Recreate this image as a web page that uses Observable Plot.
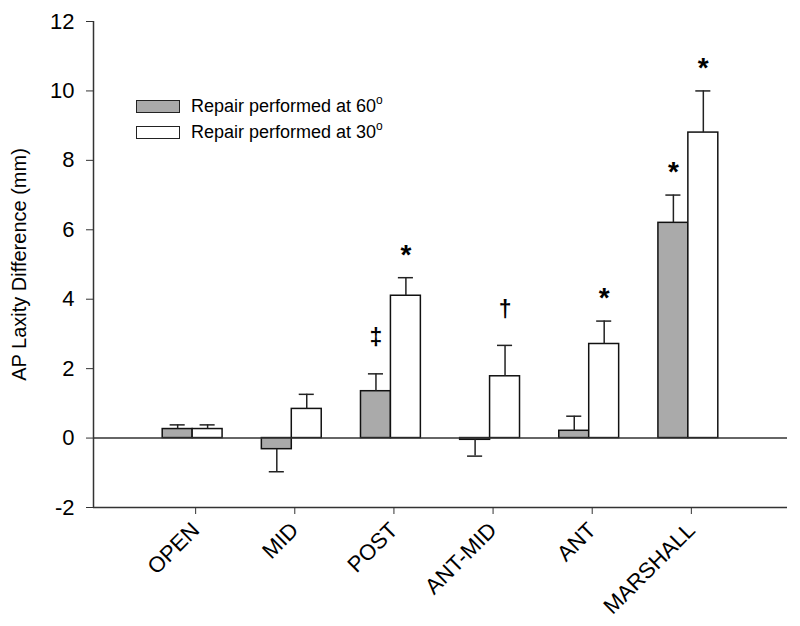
<!DOCTYPE html>
<html>
<head>
<meta charset="utf-8">
<script src="https://cdn.jsdelivr.net/npm/d3@7"></script>
<script src="https://cdn.jsdelivr.net/npm/@observablehq/plot@0.6"></script>
<style>
  html, body { margin: 0; padding: 0; background: #fff; }
  #wrap { position: relative; width: 800px; height: 626px; font-family: "Liberation Sans", Arial, sans-serif; }
  #legend { position: absolute; left: 136px; top: 100px; font-size: 18px; color: #000; }
  .row { display: flex; align-items: center; height: 13px; margin-bottom: 13px; }
  .sw { width: 42px; height: 11px; border: 1.5px solid #222; margin-right: 11px; box-sizing: content-box; }
  sup { font-size: 12px; vertical-align: 8px; line-height: 0; }
</style>
</head>
<body>
<div id="wrap"><div id="chart"></div>
<div id="legend"></div>
</div>
<script>
const categories = ["OPEN", "MID", "POST", "ANT-MID", "ANT", "MARSHALL"];
const mean60 = [0.26, -0.32, 1.35, -0.05, 0.21, 6.20];
const err60  = [0.12, 0.65, 0.50, 0.47, 0.42, 0.80];
const mean30 = [0.26, 0.84, 4.10, 1.78, 2.71, 8.80];
const err30  = [0.12, 0.42, 0.52, 0.89, 0.66, 1.20];
const sig60  = ["", "", "\u2021", "", "", "*"];
const sig30  = ["", "", "*", "\u2020", "*", "*"];
const seriesNames = ["Repair performed at 60", "Repair performed at 30"];
const seriesFill = ["#aaaaaa", "#ffffff"];
const yTicks = [-2, 0, 2, 4, 6, 8, 10, 12];

const barW = 0.302;
const capHalf = 0.076;
const rows = [];
categories.forEach((c, i) => {
  const pos = i + 1;
  [[mean60, err60, sig60], [mean30, err30, sig30]].forEach(([m, e, s], k) => {
    const v = m[i];
    const x1 = k === 0 ? pos - barW : pos;
    const x2 = k === 0 ? pos : pos + barW;
    const end = v + (v < 0 ? -e[i] : e[i]);
    rows.push({cat: c, pos, series: k, v, x1, x2, xc: (x1 + x2) / 2, end, sig: s[i]});
  });
});

const ink = "#222";
const plot = Plot.plot({
  width: 800,
  height: 626,
  marginLeft: 93,
  marginRight: 13,
  marginTop: 21,
  marginBottom: 119,
  style: {fontFamily: "'Liberation Sans', Arial, sans-serif", fontSize: "22px", color: "#000", background: "#fff"},
  x: {domain: [0, 7]},
  y: {domain: [-2, 12]},
  marks: [
    Plot.rect(rows, {x1: "x1", x2: "x2", y1: 0, y2: "v", fill: d => seriesFill[d.series], stroke: "#111", strokeWidth: 1.5}),
    Plot.ruleX(rows, {x: "xc", y1: "v", y2: "end", stroke: ink, strokeWidth: 1.5}),
    Plot.ruleY(rows, {y: "end", x1: d => d.xc - capHalf, x2: d => d.xc + capHalf, stroke: ink, strokeWidth: 1.5}),
    Plot.ruleY([0], {stroke: "#333", strokeWidth: 1.5}),
    Plot.ruleY([-2], {stroke: "#333", strokeWidth: 1.5}),
    Plot.ruleX([0], {stroke: "#333", strokeWidth: 1.5}),
    Plot.text(rows.filter(d => d.sig === "*"), {x: "xc", y: "end", text: "sig", dy: -23, fontSize: 28, fontWeight: "bold", fill: "#000"}),
    Plot.text(rows.filter(d => d.sig && d.sig !== "*"), {x: "xc", y: "end", text: "sig", dy: -36, fontSize: 23, fontWeight: "bold", fill: "#000"}),
    Plot.axisY({ticks: yTicks, tickFormat: d => String(d), tickSize: 7, tickPadding: 12, stroke: "#333", fontSize: 22, label: null}),
    Plot.axisY({ticks: [], label: "AP Laxity Difference (mm)", labelAnchor: "center", labelArrow: "none", labelOffset: 82, fontSize: 20}),
    Plot.axisX({ticks: categories.map((c, i) => i + 1), tickFormat: d => categories[d - 1],
      tickRotate: -45, tickSize: 7, tickPadding: 12, dx: 3, stroke: "#333", fontSize: 22, label: null})
  ]
});
document.getElementById("chart").appendChild(plot);

const legend = document.getElementById("legend");
seriesNames.forEach((n, k) => {
  const row = document.createElement("div");
  row.className = "row";
  row.innerHTML = `<div class="sw" style="background:${seriesFill[k]}"></div><span>${n}<sup>o</sup></span>`;
  legend.appendChild(row);
});
</script>
</body>
</html>
